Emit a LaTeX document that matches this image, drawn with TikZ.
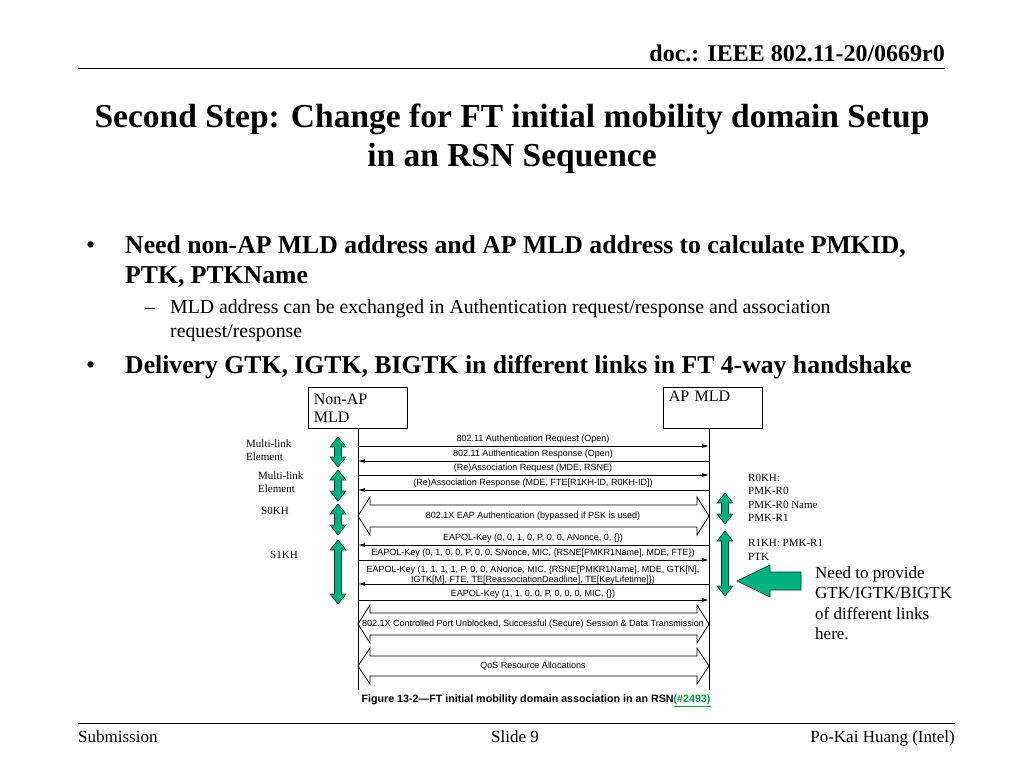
\documentclass[tikz,border=0pt]{standalone}
\usepackage{fontspec}
\setmainfont{Liberation Serif}
\newfontfamily\dsans{Liberation Sans}
\usetikzlibrary{arrows.meta}
\definecolor{grn}{RGB}{0,178,128}
\definecolor{lnk}{RGB}{0,150,60}
\tikzset{
  msg/.style={line width=0.8pt,-{Latex[length=7pt,width=4pt]}},
  lab/.style={inner sep=0pt,font=\dsans\fontsize{9}{10}\selectfont},
  side/.style={inner sep=0pt,anchor=west,align=left,font=\fontsize{11}{13.5}\selectfont},
  ent/.style={draw,line width=0.8pt,minimum width=99pt,minimum height=41pt,inner sep=3pt,font=\fontsize{16}{18}\selectfont},
  gar/.style={fill=grn,draw=black!70!grn,line width=0.6pt},
  hollow/.style={fill=white,draw,line width=0.8pt},
}
\newcommand{\garrow}[3]{%
  \draw[gar] (#1,#2) -- (#1+8,#2+10) -- (#1+3.5,#2+10) -- (#1+3.5,#3-10) -- (#1+8,#3-10) -- (#1,#3) -- (#1-8,#3-10) -- (#1-3.5,#3-10) -- (#1-3.5,#2+10) -- (#1-8,#2+10) -- cycle;}
\newcommand{\hblock}[3]{%
  \draw[hollow] (#1,#3) -- (#1+12,#2) -- (#1+12,#2+8) -- (697,#2+8) -- (697,#2) -- (709,#3) -- (697,2*#3-#2) -- (697,2*#3-#2-8) -- (#1+12,2*#3-#2-8) -- (#1+12,2*#3-#2) -- cycle;}
\begin{document}
\begin{tikzpicture}[x=1pt,y=-1pt]
\useasboundingbox[fill=white] (0,0) rectangle (1024,768);
% header
\node[anchor=base east,inner sep=0pt,font=\bfseries\fontsize{24}{26}\selectfont] (hdr) at (945,62) {doc.: IEEE 802.11-20/0669r0};
\draw[line width=1pt] (78,68) -- (945,68);
\node[align=center,inner sep=0pt,font=\bfseries\fontsize{33.5}{39}\selectfont] (title) at (512,139) {Second Step: Change for FT initial mobility domain Setup\\in an RSN Sequence};
% bullets
\begin{scope}[every node/.style={anchor=base west,inner sep=0pt}]
\node[font=\fontsize{26}{24}\selectfont] (b1) at (86,253) {•};
\node[font=\bfseries\fontsize{25.7}{24}\selectfont] (t1) at (125,253) {Need non-AP MLD address and AP MLD address to calculate PMKID,};
\node[font=\bfseries\fontsize{25.7}{24}\selectfont] (t1b) at (125,283) {PTK, PTKName};
\node[font=\fontsize{19.8}{19}\selectfont] (d1) at (145,313) {–};
\node[font=\fontsize{19.8}{19}\selectfont] (t2) at (170,313) {MLD address can be exchanged in Authentication request/response and association};
\node[font=\fontsize{19.8}{19}\selectfont] (t2b) at (170,337) {request/response};
\node[font=\fontsize{26}{24}\selectfont] (b2) at (86,373) {•};
\node[font=\bfseries\fontsize{25.7}{24}\selectfont] (t3) at (125,373) {Delivery GTK, IGTK, BIGTK in different links in FT 4-way handshake};
\end{scope}
% entities
\node[ent,anchor=north west,align=left,text width=88pt] (sta) at (308,387) {Non-AP\\MLD};
\node[ent,anchor=north west,align=left,text width=88pt] (ap) at (663,387) {AP MLD\\\strut};
\coordinate (sl) at (358,428);
\coordinate (al) at (709,428);
\draw[line width=0.8pt] (sl) -- (358,690);
\draw[line width=0.8pt] (al) -- (709,690);
% messages
\draw[msg] (358,446) -- (709,446); \node[lab] (m1) at (533,439) {802.11 Authentication Request (Open)};
\draw[msg] (709,461) -- (358,461); \node[lab] (m2) at (533,454) {802.11 Authentication Response (Open)};
\draw[msg] (358,475) -- (709,475); \node[lab] (m3) at (533,468) {(Re)Association Request (MDE, RSNE)};
\draw[msg] (709,490) -- (358,490); \node[lab] (m4) at (533,483) {(Re)Association Response (MDE, FTE[R1KH-ID, R0KH-ID])};
\hblock{358}{497}{516}
\node[lab] (m5) at (533,516) {802.1X EAP Authentication (bypassed if PSK is used)};
\draw[msg] (709,545) -- (358,545); \node[lab] (m6) at (533,538) {EAPOL-Key (0, 0, 1, 0, P, 0, 0, ANonce, 0, \{\})};
\draw[msg] (358,560) -- (709,560); \node[lab] (m7) at (533,553) {EAPOL-Key (0, 1, 0, 0, P, 0, 0, SNonce, MIC, \{RSNE[PMKR1Name], MDE, FTE\})};
\draw[msg] (709,584) -- (358,584); \node[lab,align=center,font=\dsans\fontsize{9}{10.5}\selectfont] (m8) at (533,575) {EAPOL-Key (1, 1, 1, 1, P, 0, 0, ANonce, MIC, \{RSNE[PMKR1Name], MDE, GTK[N],\\IGTK[M], FTE, TE[ReassociationDeadline], TE[KeyLifetime]\})};
\draw[msg] (358,600) -- (709,600); \node[lab] (m9) at (533,594) {EAPOL-Key (1, 1, 0, 0, P, 0, 0, 0, MIC, \{\})};
\hblock{358}{605}{624}
\node[lab] (m10) at (533,624) {802.1X Controlled Port Unblocked, Successful (Secure) Session \& Data Transmission};
\hblock{358}{648}{666}
\node[lab] (m11) at (533,666) {QoS Resource Allocations};
\node[inner sep=0pt,font=\dsans\bfseries\fontsize{10.7}{12}\selectfont] (cap) at (536,701) {Figure 13-2—FT initial mobility domain association in an RSN\textcolor{lnk}{\underline{(\#2493)}}};
% green arrows
\garrow{338}{437}{467}
\garrow{338}{470}{501}
\garrow{338}{504}{535}
\garrow{338}{540}{604}
\garrow{725}{493}{524}
\garrow{725}{531}{596}
\draw[gar] (737,581) -- (770,565) -- (770,572) -- (801,572) -- (801,590) -- (770,590) -- (770,597) -- cycle;
% side labels
\node[side] (l1) at (246,450) {Multi-link\\Element};
\node[side] (l2) at (258,482) {Multi-link\\Element};
\node[side] (l3) at (261,511) {S0KH};
\node[side] (l4) at (270,555) {S1KH};
\node[side] (r1) at (748,498) {R0KH:\\PMK-R0\\PMK-R0 Name\\PMK-R1};
\node[side] (r2) at (748,550) {R1KH: PMK-R1\\PTK};
\node[inner sep=0pt,anchor=north west,align=left,font=\fontsize{17}{20.5}\selectfont] (need) at (815,566) {Need to provide\\GTK/IGTK/BIGTK\\of different links\\here.};
% footer
\draw[line width=1pt] (78,723) -- (955,723);
\node[anchor=base west,inner sep=0pt,font=\fontsize{17}{18}\selectfont] (f1) at (78,742) {Submission};
\node[anchor=base,inner sep=0pt,font=\fontsize{17}{18}\selectfont] (f2) at (515,742) {Slide 9};
\node[anchor=base east,inner sep=0pt,font=\fontsize{17}{18}\selectfont] (f3) at (955,742) {Po-Kai Huang (Intel)};
\end{tikzpicture}
\end{document}
